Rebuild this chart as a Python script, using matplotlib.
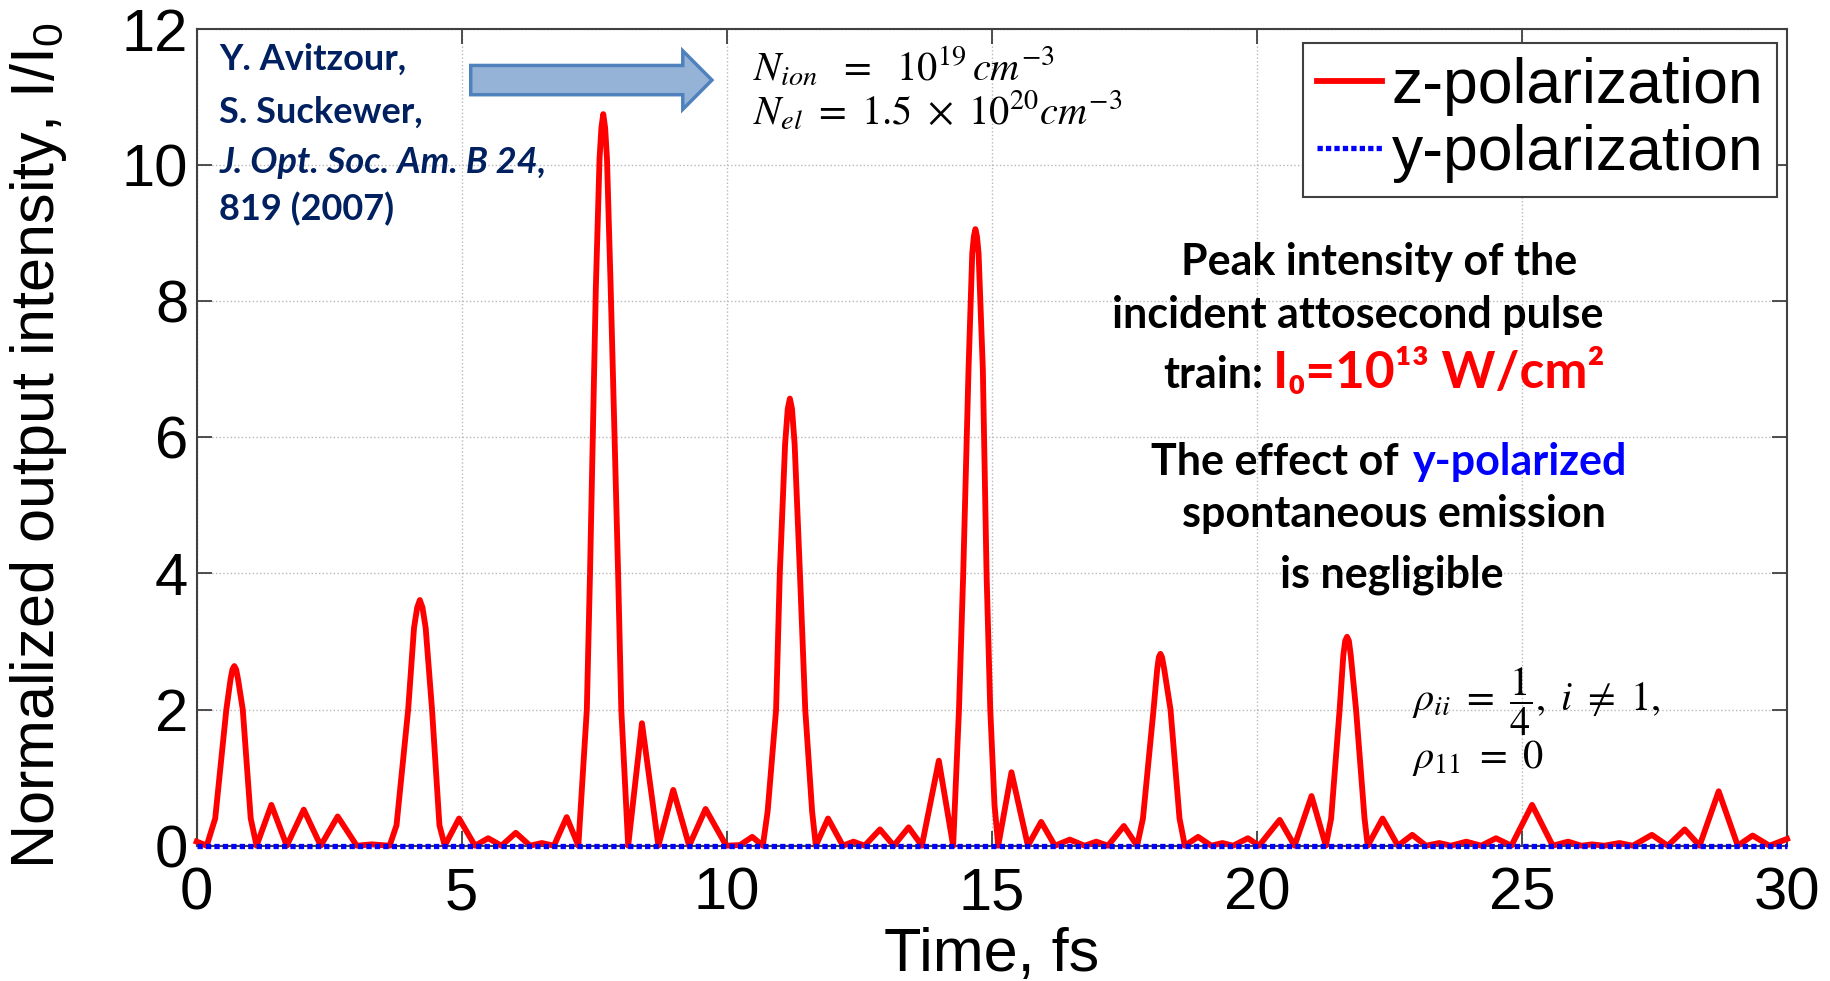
import matplotlib
matplotlib.use("Agg")
import matplotlib.pyplot as plt
from matplotlib.patches import FancyArrow

plt.rcParams['font.family'] = ['Liberation Sans', 'DejaVu Sans']

# z-polarized output intensity, I/I0, vs time (fs)
z_time = [
    0.00, 0.10, 0.19, 0.35, 0.56, 0.64, 0.675, 0.71, 0.745, 0.78, 0.87, 1.02, 1.13,
    1.41, 1.70, 2.02, 2.34, 2.66, 3.02, 3.30, 3.64,
    3.77, 3.99, 4.10, 4.16, 4.21, 4.26, 4.32, 4.44, 4.58, 4.68,
    4.95, 5.25, 5.50, 5.75, 6.02, 6.29, 6.51, 6.74, 6.98, 7.20,
    7.36, 7.42, 7.53, 7.60, 7.635, 7.67, 7.705, 7.74, 7.81, 7.95, 8.01, 8.14,
    8.40, 8.71, 8.99, 9.29, 9.60, 9.99, 10.25, 10.48, 10.68,
    10.77, 10.93, 11.00, 11.10, 11.15, 11.19, 11.23, 11.28, 11.38, 11.48, 11.61, 11.68,
    11.91, 12.19, 12.39, 12.60, 12.89, 13.15, 13.43, 13.68, 14.00, 14.27,
    14.38, 14.46, 14.56, 14.63, 14.66, 14.69, 14.72, 14.75, 14.83, 14.90, 14.97, 15.05, 15.12,
    15.37, 15.68, 15.93, 16.19, 16.47, 16.75, 16.97, 17.19, 17.49, 17.74,
    17.85, 18.05, 18.12, 18.15, 18.18, 18.21, 18.25, 18.37, 18.54, 18.64,
    18.89, 19.14, 19.35, 19.55, 19.83, 20.04, 20.43, 20.71, 21.03, 21.30,
    21.40, 21.56, 21.63, 21.665, 21.70, 21.735, 21.77, 21.87, 22.03, 22.09,
    22.37, 22.66, 22.93, 23.19, 23.44, 23.66, 23.95, 24.23, 24.51, 24.80,
    25.19, 25.58, 25.87, 26.12, 26.32, 26.55, 26.84, 27.09, 27.45, 27.75,
    28.07, 28.35, 28.71, 29.07, 29.35, 29.67, 30.00,
]
z_intensity = [
    0.06, 0.03, 0.00, 0.40, 2.00, 2.45, 2.59, 2.64, 2.59, 2.45, 2.00, 0.40, 0.00,
    0.60, 0.00, 0.53, 0.00, 0.43, 0.00, 0.02, 0.00,
    0.30, 2.00, 3.20, 3.50, 3.61, 3.50, 3.20, 2.00, 0.30, 0.00,
    0.40, 0.00, 0.11, 0.00, 0.19, 0.00, 0.04, 0.00, 0.42, 0.00,
    2.00, 4.00, 8.20, 10.10, 10.55, 10.75, 10.55, 10.10, 8.20, 4.00, 2.00, 0.00,
    1.80, 0.00, 0.82, 0.00, 0.54, 0.00, 0.01, 0.13, 0.00,
    0.50, 2.00, 4.00, 5.90, 6.42, 6.57, 6.42, 5.90, 4.00, 2.00, 0.50, 0.00,
    0.40, 0.00, 0.06, 0.00, 0.24, 0.00, 0.27, 0.00, 1.25, 0.00,
    2.00, 4.00, 7.00, 8.70, 8.95, 9.06, 8.95, 8.70, 7.00, 4.00, 2.00, 0.60, 0.00,
    1.08, 0.00, 0.35, 0.00, 0.09, 0.00, 0.06, 0.00, 0.29, 0.00,
    0.40, 2.00, 2.60, 2.77, 2.82, 2.77, 2.60, 2.00, 0.40, 0.00,
    0.13, 0.00, 0.04, 0.00, 0.11, 0.00, 0.38, 0.00, 0.73, 0.00,
    0.40, 2.00, 2.80, 3.01, 3.07, 3.01, 2.80, 2.00, 0.40, 0.00,
    0.40, 0.00, 0.16, 0.00, 0.04, 0.00, 0.06, 0.00, 0.11, 0.00,
    0.60, 0.00, 0.06, 0.00, 0.02, 0.00, 0.04, 0.00, 0.16, 0.00,
    0.24, 0.00, 0.80, 0.00, 0.15, 0.00, 0.10,
]

# y-polarized output stays at zero over the whole window
y_time = [0.0, 30.0]
y_intensity = [0.0, 0.0]

x_ticks = [0, 5, 10, 15, 20, 25, 30]
y_ticks = [0, 2, 4, 6, 8, 10, 12]

navy = '#002060'

fig = plt.figure(figsize=(18.31, 9.81), dpi=100)
ax = fig.add_axes([0.1074, 0.1379, 0.8686, 0.8325])

ax.plot(z_time, z_intensity, color='#ff0000', lw=4.2, label='z-polarization',
        clip_on=False, solid_joinstyle='round', zorder=3)
ax.plot(y_time, y_intensity, color='#0000ff', lw=3.8, linestyle=(0, (1.0, 0.6)),
        dash_capstyle='butt', label='y-polarization', clip_on=False, zorder=4)

ax.set_xlim(0, 30)
ax.set_ylim(0, 12)
ax.set_xticks(x_ticks)
ax.set_yticks(y_ticks)
ax.grid(True, linestyle=':', color='#b8b8b8', linewidth=1.0)
ax.tick_params(axis='both', which='major', direction='in', length=11, width=1.3,
               color='#404040', labelsize=43, top=True, right=True)
ax.tick_params(axis='x', pad=15)
ax.tick_params(axis='y', pad=6)
for sp in ax.spines.values():
    sp.set_color('#404040')
    sp.set_linewidth(1.5)

ax.set_xlabel('Time, fs', fontsize=44)
ax.set_ylabel(r'Normalized output intensity, I/I$_\mathregular{0}$', fontsize=44)
ax.xaxis.set_label_coords(0.5, -0.100)
ax.yaxis.set_label_coords(-0.080, 0.49)

leg = ax.legend(loc='upper right', bbox_to_anchor=(0.9937, 0.983), borderaxespad=0,
                fontsize=45, handlelength=1.05, handletextpad=0.15,
                labelspacing=0.13, borderpad=0.22, fancybox=False, framealpha=1)
leg.get_frame().set_edgecolor('#404040')
leg.get_frame().set_linewidth(1.5)

# reference note
cite = [('Y. Avitzour,', 'normal', 11.40), ('S. Suckewer,', 'normal', 10.62),
        ('J. Opt. Soc. Am. B 24,', 'italic', 9.89), ('819 (2007)', 'normal', 9.19)]
for line, style, yy in cite:
    ax.text(0.43, yy, line, color=navy, fontsize=26, fontweight='bold',
            style=style, family=['Lato', 'DejaVu Sans'], va='baseline', ha='left')

ax.add_patch(FancyArrow(5.17, 11.25, 4.55, 0, width=0.43, head_width=0.86,
                        head_length=0.55, length_includes_head=True,
                        facecolor='#95B3D7', edgecolor='#4F81BD', lw=2.5, zorder=5))

ax.text(10.49, 11.24, r'$N_{ion}\ \ =\ \ 10^{19}\,cm^{-3}$', fontsize=29,
        math_fontfamily='stix', va='baseline', ha='left')
ax.text(10.49, 10.60, r'$N_{el}\ =\ 1.5\ \times\ 10^{20}cm^{-3}$', fontsize=29,
        math_fontfamily='stix', va='baseline', ha='left')

# explanatory text on the right
bold = dict(fontsize=31, fontweight='bold', family=['Lato', 'DejaVu Sans'], va='baseline')
ax.text(22.31, 8.38, 'Peak intensity of the', ha='center', **bold)
ax.text(21.90, 7.60, 'incident attosecond pulse', ha='center', **bold)
ax.text(20.11, 6.73, 'train:', ha='right', **bold)
ax.text(20.30, 6.73, 'I₀=10¹³ W/cm²', ha='left', color='#ff0000',
        fontsize=37, fontweight='bold', family=['Lato', 'DejaVu Sans'], va='baseline')
ax.text(22.67, 5.45, 'The effect of', ha='right', **bold)
ax.text(22.95, 5.45, 'y-polarized', ha='left', color='#0000ff', **bold)
ax.text(22.58, 4.68, 'spontaneous emission', ha='center', **bold)
ax.text(22.54, 3.80, 'is negligible', ha='center', **bold)

ax.text(22.93, 1.98, r'$\rho_{ii}\ =\ \dfrac{1}{4},\ i\ \neq\ 1,$', fontsize=29,
        math_fontfamily='stix', va='baseline', ha='left')
ax.text(22.93, 1.14, r'$\rho_{11}\ =\ 0$', fontsize=29,
        math_fontfamily='stix', va='baseline', ha='left')

fig.savefig('out.png', dpi=100)
